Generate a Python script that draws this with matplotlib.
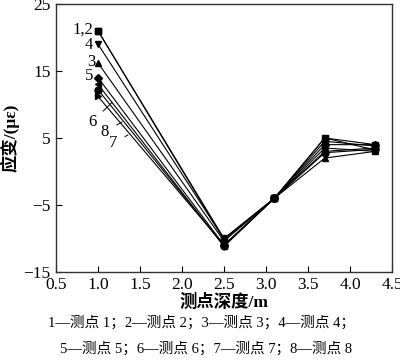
import numpy as np
import matplotlib.pyplot as plt

# depth of measuring points (m)
depth = [1.0, 2.5, 3.1, 3.7, 4.3]

# strain values (micro-strain) for measuring points 1..8
s1 = [21.0, -10.0, -4.0, 5.0, 4.0]
s2 = [21.0, -10.2, -4.0, 4.5, 3.8]
s3 = [16.2, -10.4, -4.0, 2.0, 3.0]
s4 = [19.0, -10.1, -4.0, 3.0, 3.5]
s5 = [14.0, -11.0, -4.0, 4.0, 4.0]
s6 = [13.0, -11.2, -4.0, 5.0, 3.2]
s7 = [11.2, -11.0, -4.0, 3.5, 3.0]
s8 = [12.2, -11.1, -4.0, 2.8, 3.3]

series = [s1, s2, s3, s4, s5, s6, s7, s8]
markers = ['s', 's', '^', 'v', 'D', '<', '>', 'o']
msizes = [4.5, 4.5, 5, 5, 4, 5, 5, 5]

yticks = [-15, -5, 5, 15, 25]
xticks = [0.5, 1.0, 1.5, 2.0, 2.5, 3.0, 3.5, 4.0, 4.5]

serif = ['Liberation Serif', 'Noto Sans CJK SC']
plt.rcParams['font.family'] = serif
plt.rcParams['axes.unicode_minus'] = True

fig = plt.figure(figsize=(4.0, 3.64), dpi=100)
ax = fig.add_axes([0.14, 0.253, 0.84, 0.736])

for s, m, ms in zip(series, markers, msizes):
    ax.plot(depth, s, color='black', linewidth=0.8, marker=m, markersize=ms,
            markerfacecolor='black', markeredgecolor='black')

ax.set_xlim(0.5, 4.5)
ax.set_ylim(-15, 25)
ax.set_xticks(xticks)
ax.set_xticklabels(['%.1f' % t for t in xticks])
ax.set_yticks(yticks)
ax.set_yticklabels(['\u2212%d' % -t if t < 0 else '%d' % t for t in yticks])
ax.tick_params(direction='in', length=4, width=0.8, labelsize=12.5, top=False, right=False)
ax.tick_params(axis='x', pad=4)
ax.tick_params(axis='y', pad=4)
for sp in ax.spines.values():
    sp.set_linewidth(1.0)
    sp.set_color('#333333')

ax.set_xlabel('测点深度/m', fontsize=12.5, fontweight='bold', labelpad=0)
ax.set_ylabel('应变/(με)', fontsize=12.5, fontweight='bold', labelpad=3)

# series labels
fs = 12
ax.text(0.94, 21.2, '1,2', ha='right', va='center', fontsize=fs)
ax.text(0.94, 18.9, '4', ha='right', va='center', fontsize=fs)
ax.text(0.975, 16.4, '3', ha='right', va='center', fontsize=fs)
ax.text(0.95, 14.2, '5', ha='right', va='center', fontsize=fs)
ax.annotate('6', xy=(1.167, 10.3), xytext=(0.93, 7.4), ha='center', va='center',
            fontsize=fs, arrowprops=dict(arrowstyle='-', lw=0.7, color='black', shrinkA=4, shrinkB=0))
ax.annotate('8', xy=(1.286, 7.4), xytext=(1.083, 5.9), ha='center', va='center',
            fontsize=fs, arrowprops=dict(arrowstyle='-', lw=0.7, color='black', shrinkA=4, shrinkB=0))
ax.annotate('7', xy=(1.357, 5.45), xytext=(1.179, 4.25), ha='center', va='center',
            fontsize=fs, arrowprops=dict(arrowstyle='-', lw=0.7, color='black', shrinkA=4, shrinkB=0))

fig.text(0.505, 0.115, '1—测点 1；2—测点 2；3—测点 3；4—测点 4；', ha='center', va='center', fontsize=10.5)
fig.text(0.515, 0.043, '5—测点 5；6—测点 6；7—测点 7；8—测点 8', ha='center', va='center', fontsize=10.5)

fig.savefig('out.png', dpi=100)
